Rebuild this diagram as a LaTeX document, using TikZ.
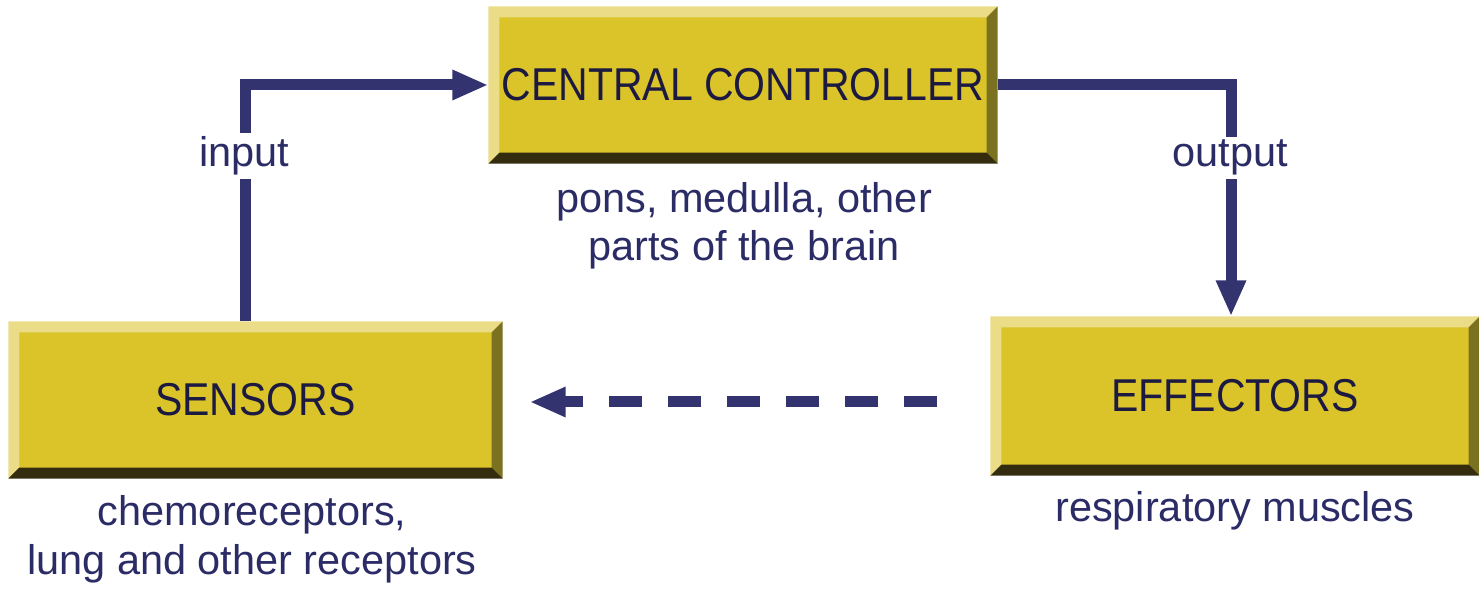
\documentclass[tikz,border=0pt]{standalone}
\usepackage{fontspec}
\setmainfont{Liberation Sans}
\newfontfamily\boxfont[FakeStretch=0.89]{Liberation Sans}
\usetikzlibrary{arrows.meta}
\definecolor{boxfill}{HTML}{DBC32A}
\definecolor{bevlight}{HTML}{EBDD88}
\definecolor{bevdark}{HTML}{342C0E}
\definecolor{bevright}{HTML}{7A7220}
\definecolor{linecol}{HTML}{333370}
\definecolor{lblcol}{HTML}{2B2B66}
\definecolor{boxtext}{HTML}{1C1A40}
\newcommand\bevw{0.11cm}
\newcommand\bevelbox[1]{%
  \fill[bevlight] (#1.south west) -- (#1.north west) -- (#1.north east)
    -- ([shift={(-\bevw,-\bevw)}]#1.north east) -- ([shift={(\bevw,-\bevw)}]#1.north west)
    -- ([shift={(\bevw,\bevw)}]#1.south west) -- cycle;
  \fill[bevright] (#1.north east) -- (#1.south east) -- ([shift={(-\bevw,\bevw)}]#1.south east)
    -- ([shift={(-\bevw,-\bevw)}]#1.north east) -- cycle;
  \fill[bevdark] (#1.south west) -- (#1.south east) -- ([shift={(-\bevw,\bevw)}]#1.south east)
    -- ([shift={(\bevw,\bevw)}]#1.south west) -- cycle;}
\begin{document}
\begin{tikzpicture}[
  blk/.style={rectangle, fill=boxfill, inner sep=0pt, text=boxtext,
    font=\boxfont\fontsize{13.1pt}{15pt}\selectfont},
  lbl/.style={text=lblcol, inner sep=0pt, align=center,
    font=\fontsize{11.8pt}{13.9pt}\selectfont},
  arr/.style={line width=0.11cm, draw=linecol,
    -{Triangle[length=0.36cm,width=0.28cm]}},
  darr/.style={arr, dash pattern=on 0.33cm off 0.26cm}
]
\useasboundingbox (0,0) rectangle (14.79,-6.07);
% boxes
\node[blk, minimum width=5.08cm, minimum height=1.56cm] (central) at (7.43,-0.85) {CENTRAL CONTROLLER};
\node[blk, minimum width=4.93cm, minimum height=1.56cm] (sensors) at (2.555,-4.00) {SENSORS};
\node[blk, minimum width=4.88cm, minimum height=1.58cm] (effectors) at (12.35,-3.96) {EFFECTORS};
\bevelbox{central}
\bevelbox{sensors}
\bevelbox{effectors}
% helper coordinates
\coordinate (inx) at (2.45,0);
\coordinate (outx) at (12.31,0);
\coordinate (dstart) at ([xshift=-0.53cm,yshift=-0.06cm]effectors.west);
\coordinate (dend) at ([xshift=0.27cm,yshift=-0.02cm]sensors.east);
% connectors
\draw[arr] (sensors.north -| inx) |- (central.west);
\draw[arr] (central.east) -| (effectors.north -| outx);
\draw[darr] (dstart) -- (dend);
% labels
\node[lbl, fill=white, inner sep=1pt, anchor=base] (inlbl) at (2.44,-1.67) {input};
\node[lbl, fill=white, inner sep=1pt, anchor=base] (outlbl) at (12.30,-1.67) {output};
\node[lbl, anchor=base] (ccl) at (7.44,-2.61) {pons, medulla, other\\parts of the brain};
\node[lbl, anchor=base] (snl) at (2.52,-5.74) {chemoreceptors,\\lung and other receptors};
\node[lbl, anchor=base] (efl) at (12.35,-5.22) {respiratory muscles};
\end{tikzpicture}
\end{document}
